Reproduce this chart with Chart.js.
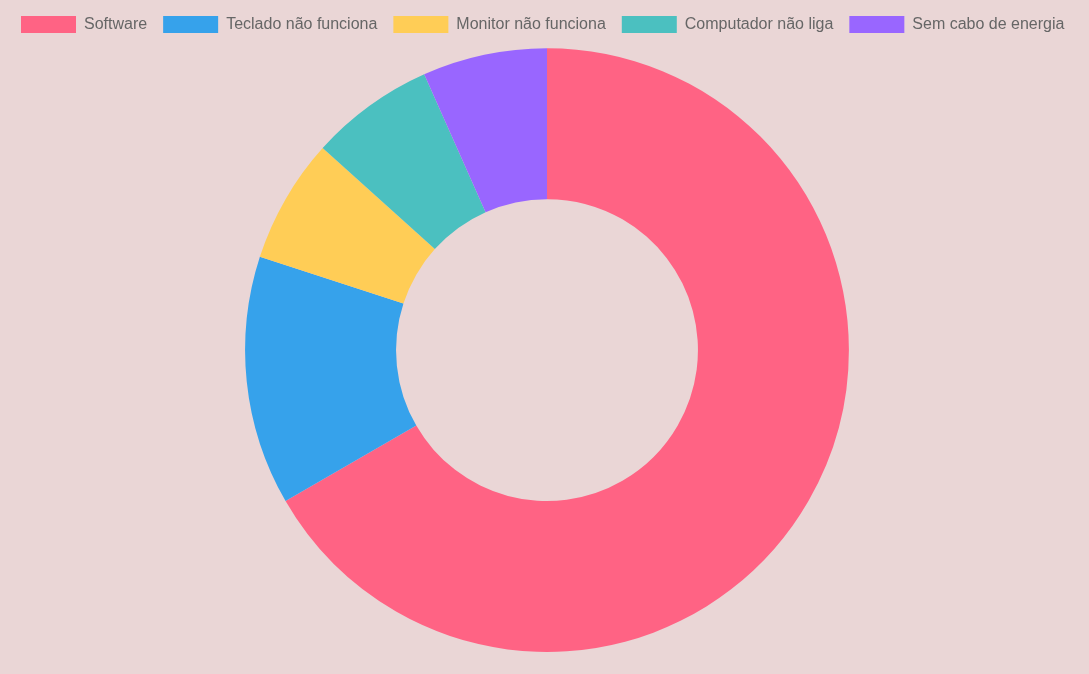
<!DOCTYPE html>
<html>
<head>
<meta charset="utf-8">
<script src="https://cdn.jsdelivr.net/npm/chart.js@4"></script>
<style>
html,body{margin:0;padding:0;background:#ead6d6;}
#wrap{width:1089px;height:674px;position:relative;}
</style>
</head>
<body>
<div id="wrap"><canvas id="c"></canvas></div>
<script>
const categories = ["Software", "Teclado não funciona", "Monitor não funciona", "Computador não liga", "Sem cabo de energia"];
const values = [10, 2, 1, 1, 1];
const colors = ["#ff6384", "#36a2eb", "#ffcd56", "#4bc0c0", "#9966ff"];

new Chart(document.getElementById('c'), {
  type: 'doughnut',
  data: {
    labels: categories,
    datasets: [{ data: values, backgroundColor: colors, borderWidth: 0 }]
  },
  options: {
    responsive: true,
    maintainAspectRatio: false,
    animation: false,
    cutout: '50%',
    layout: { padding: { top: 0, bottom: 22, left: 5 } },
    plugins: {
      legend: {
        position: 'top',
        align: 'start',
        labels: {
          boxWidth: 55,
          boxHeight: 17,
          padding: 16,
          color: '#666',
          font: { family: 'Liberation Sans, Arial, sans-serif', size: 16 }
        }
      },
      title: {
        display: true,
        text: ' ',
        position: 'top',
        weight: 0,
        font: { size: 1 },
        padding: { top: 4, bottom: 0 }
      },
      tooltip: { enabled: false }
    }
  }
});
</script>
</body>
</html>
